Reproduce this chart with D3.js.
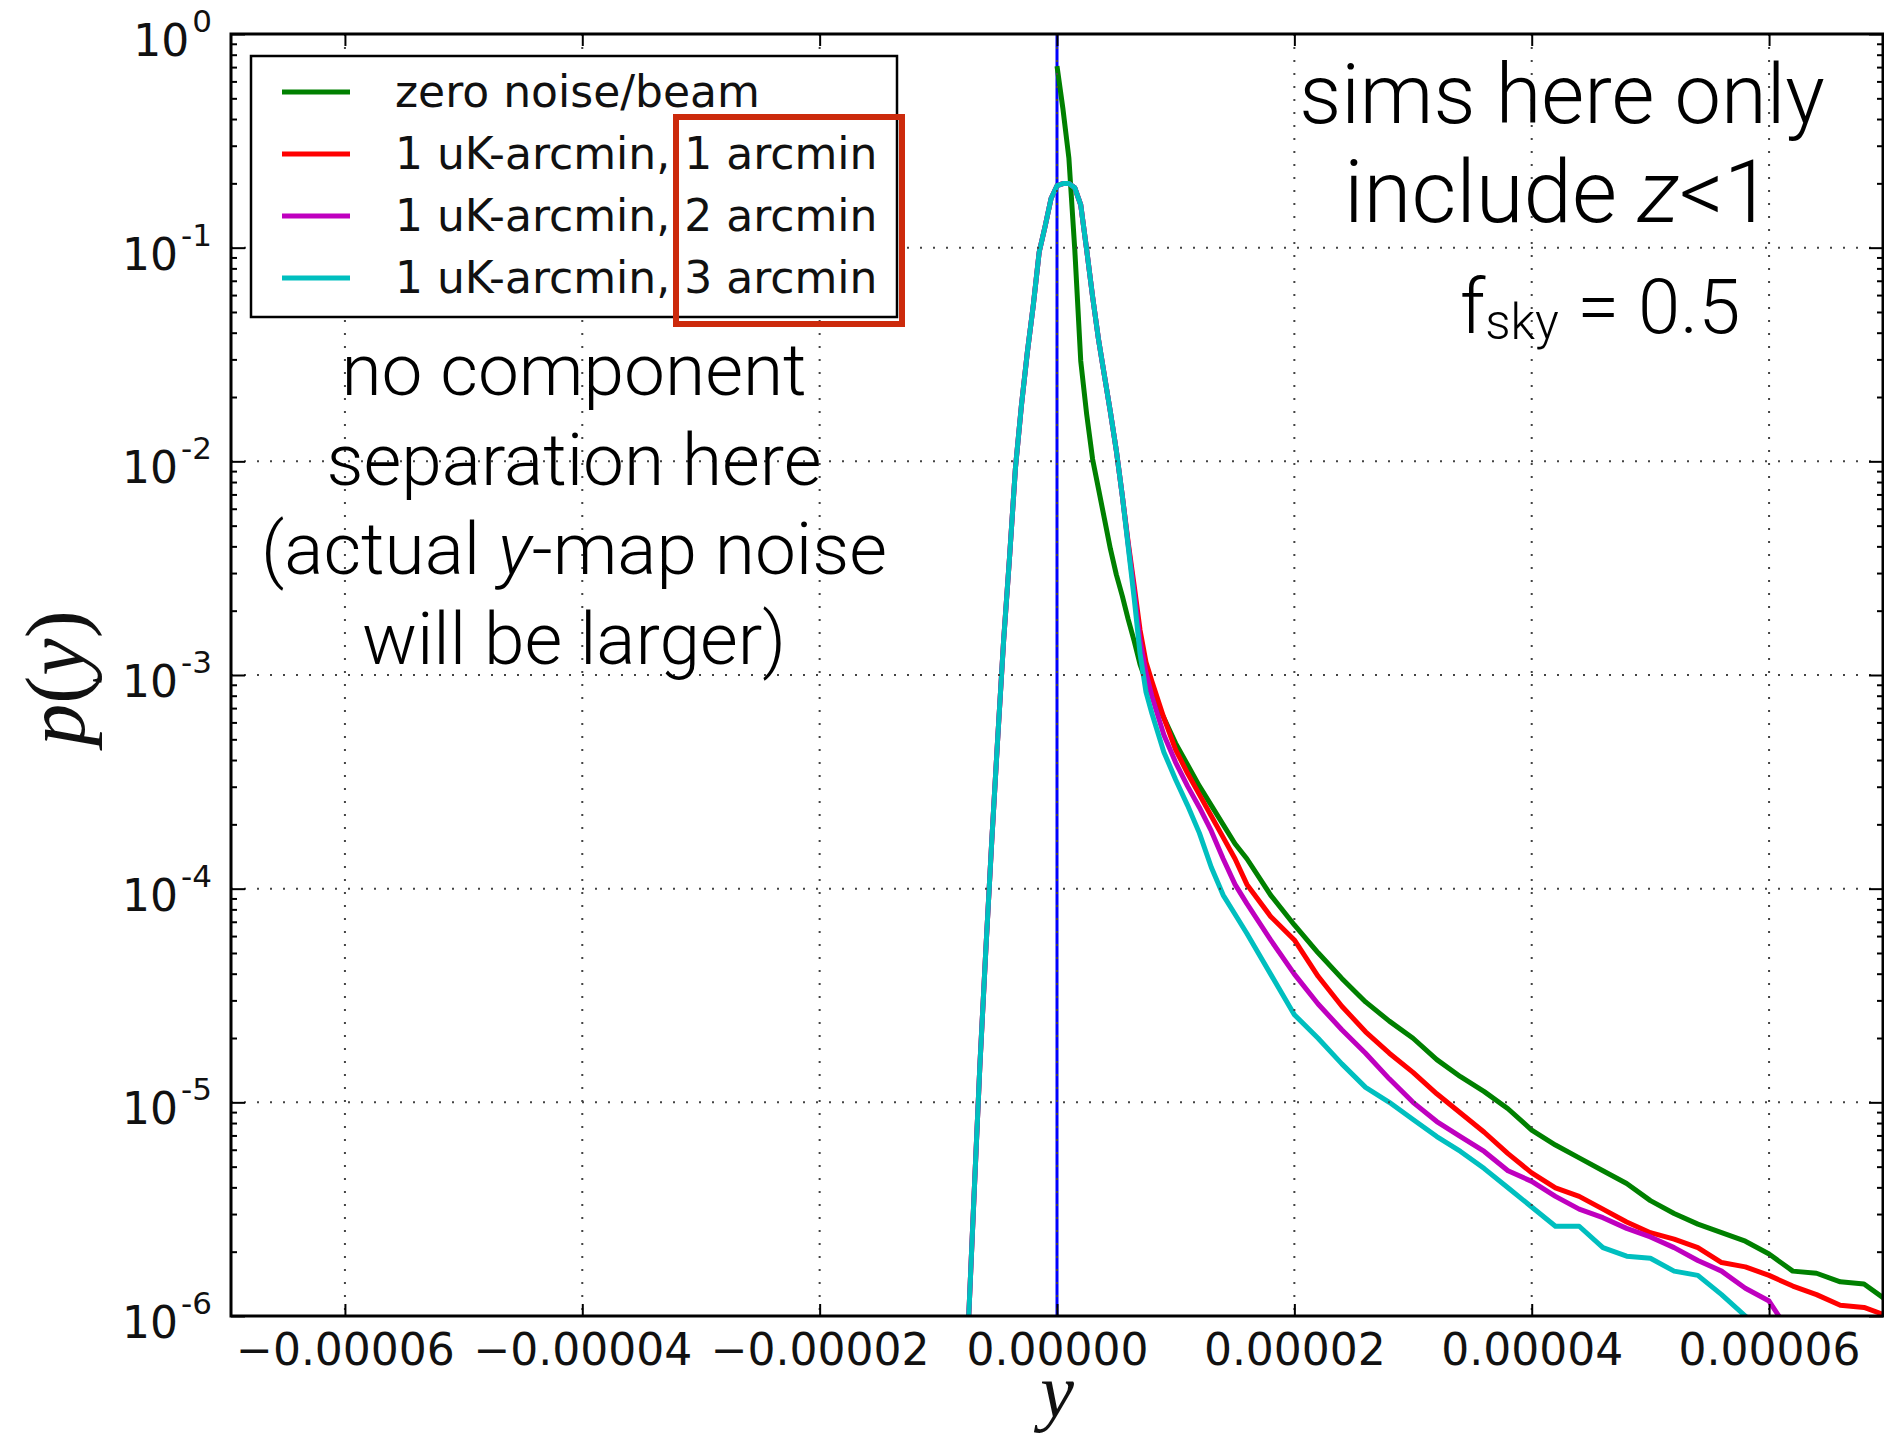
<!DOCTYPE html>
<html>
<head>
<meta charset="utf-8">
<script src="https://cdn.jsdelivr.net/npm/d3@7"></script>
<style>
  body { margin: 0; background: #fff; }
  svg { display: block; }
</style>
</head>
<body>
<div id="graphic"></div>
<script>
// y bins, in units of 1e-5
const xGrid = [-0.75, -0.70, -0.65, -0.60, -0.55, -0.50, -0.45, -0.40, -0.35, -0.30,
    -0.25, -0.20, -0.15, -0.10, -0.05, 0.00, 0.05, 0.10, 0.15, 0.20,
    0.25, 0.30, 0.35, 0.40, 0.45, 0.50, 0.55, 0.60, 0.65, 0.70,
    0.75, 0.80, 0.90, 1.0, 1.1, 1.2, 1.3, 1.4, 1.5, 1.6,
    1.8, 2.0, 2.2, 2.4, 2.6, 2.8, 3.0, 3.2, 3.4, 3.6,
    3.8, 4.0, 4.2, 4.4, 4.6, 4.8, 5.0, 5.2, 5.4, 5.6,
    5.8, 6.0, 6.2, 6.4, 6.6, 6.8, 7.0]

// log10 p(y) (null = nothing drawn)
const logGreen = [null, null, null, null, null, null, null, null, null, null,
    null, null, null, null, null, -0.15, -0.35, -0.58, -1.01, -1.53,
    -1.78, -1.99, -2.13, -2.27, -2.41, -2.53, -2.63, -2.74, -2.84, -2.95,
    -3.03, -3.09, -3.20, -3.32, -3.42, -3.52, -3.61, -3.70, -3.79, -3.86,
    -4.03, -4.17, -4.30, -4.42, -4.53, -4.62, -4.70, -4.80, -4.88, -4.95,
    -5.03, -5.13, -5.20, -5.26, -5.32, -5.38, -5.46, -5.52, -5.57, -5.61,
    -5.65, -5.71, -5.79, -5.80, -5.84, -5.85, -5.93]

const logRed = [-6.08, -5.45, -4.83, -4.29, -3.78, -3.30, -2.84, -2.45, -2.03, -1.74,
    -1.49, -1.27, -1.02, -0.90, -0.77, -0.71, -0.70, -0.70, -0.72, -0.80,
    -1.01, -1.23, -1.43, -1.60, -1.77, -1.95, -2.16, -2.38, -2.58, -2.79,
    -2.94, -3.03, -3.20, -3.35, -3.46, -3.56, -3.66, -3.76, -3.86, -3.98,
    -4.13, -4.24, -4.41, -4.55, -4.67, -4.77, -4.86, -4.96, -5.05, -5.14,
    -5.24, -5.33, -5.40, -5.44, -5.50, -5.56, -5.61, -5.64, -5.68, -5.75,
    -5.77, -5.81, -5.86, -5.90, -5.95, -5.96, -6.00]

const logMagenta = [-6.08, -5.45, -4.83, -4.29, -3.78, -3.30, -2.84, -2.45, -2.03, -1.74,
    -1.49, -1.27, -1.02, -0.90, -0.77, -0.71, -0.70, -0.70, -0.72, -0.80,
    -1.01, -1.23, -1.43, -1.60, -1.77, -1.95, -2.16, -2.39, -2.61, -2.84,
    -2.99, -3.10, -3.28, -3.41, -3.52, -3.62, -3.73, -3.86, -3.98, -4.07,
    -4.24, -4.40, -4.54, -4.66, -4.77, -4.89, -5.00, -5.09, -5.16, -5.23,
    -5.32, -5.37, -5.44, -5.50, -5.54, -5.59, -5.63, -5.68, -5.74, -5.79,
    -5.87, -5.93, -6.10, null, null, null, null]

const logCyan = [-6.08, -5.45, -4.83, -4.29, -3.78, -3.30, -2.84, -2.45, -2.03, -1.74,
    -1.49, -1.27, -1.02, -0.90, -0.77, -0.71, -0.70, -0.70, -0.72, -0.80,
    -1.01, -1.23, -1.43, -1.60, -1.77, -1.95, -2.16, -2.40, -2.64, -2.90,
    -3.08, -3.18, -3.36, -3.49, -3.61, -3.74, -3.90, -4.03, -4.12, -4.21,
    -4.40, -4.59, -4.70, -4.82, -4.93, -5.00, -5.08, -5.16, -5.23, -5.31,
    -5.40, -5.49, -5.58, -5.58, -5.68, -5.72, -5.73, -5.79, -5.81, -5.90,
    -6.00, -6.12, null, null, null, null, null]

const seriesNames = ["zero noise/beam", "1 uK-arcmin, 1 arcmin", "1 uK-arcmin, 2 arcmin", "1 uK-arcmin, 3 arcmin"]
const seriesColors = ["#008000", "#ff0000", "#bf00bf", "#00bfbf"]

const xTickValues = [-6, -4, -2, 0, 2, 4, 6]
const xTickLabels = ["\u22120.00006", "\u22120.00004", "\u22120.00002", "0.00000", "0.00002", "0.00004", "0.00006"]
const yTickExps = [0, -1, -2, -3, -4, -5, -6]

const W = 1884, H = 1439
const plot = { left: 231, right: 1883, top: 34, bottom: 1316 }
const tickFont = "'DejaVu Sans', sans-serif"
const noteFont = "Roboto, 'Helvetica Neue', sans-serif"

let x = d3.scaleLinear()
    .domain([-6.96, 6.96])
    .range([plot.left, plot.right])

let y = d3.scaleLog()
    .domain([1e-6, 1])
    .range([plot.bottom, plot.top])

let svg = d3.select("#graphic").append("svg")
    .attr("width", W)
    .attr("height", H)

svg.append("defs").append("clipPath")
    .attr("id", "plotclip")
    .append("rect")
    .attr("x", plot.left)
    .attr("y", plot.top)
    .attr("width", plot.right - plot.left)
    .attr("height", plot.bottom - plot.top)

let curves = svg.append("g").attr("clip-path", "url(#plotclip)")

// vertical line at y = 0
curves.append("line")
    .attr("x1", x(0)).attr("x2", x(0))
    .attr("y1", plot.top).attr("y2", plot.bottom)
    .attr("stroke", "#0000ff")
    .attr("stroke-width", 3)

const seriesLogs = [logGreen, logRed, logMagenta, logCyan]

let line = d3.line()
    .defined(d => d[1] != null)
    .x(d => x(d[0]))
    .y(d => y(Math.pow(10, d[1])))

seriesLogs.forEach(function (vals, i) {
    curves.append("path")
        .datum(xGrid.map((v, j) => [v, vals[j]]))
        .attr("fill", "none")
        .attr("stroke", seriesColors[i])
        .attr("stroke-width", 5)
        .attr("stroke-linejoin", "round")
        .attr("d", line)
})

// dotted grid, drawn over the data like the classic matplotlib style
let grid = svg.append("g")
    .attr("stroke", "#444")
    .attr("stroke-width", 2)
    .attr("stroke-dasharray", "2,11")

grid.selectAll(null)
    .data(xTickValues)
    .enter().append("line")
    .attr("x1", d => x(d)).attr("x2", d => x(d))
    .attr("y1", plot.top).attr("y2", plot.bottom)

grid.selectAll(null)
    .data(yTickExps.slice(1, -1))
    .enter().append("line")
    .attr("x1", plot.left).attr("x2", plot.right)
    .attr("y1", d => y(Math.pow(10, d))).attr("y2", d => y(Math.pow(10, d)))

// ticks on all four sides, pointing inwards
let minorValues = []
yTickExps.slice(1).forEach(function (e) {
    for (let k = 2; k <= 9; k++) minorValues.push(k * Math.pow(10, e))
})

function styleAxis(g) {
    g.select(".domain").remove()
    g.selectAll(".tick line").attr("stroke", "#000").attr("stroke-width", 2)
    g.selectAll("text").attr("font-family", tickFont).attr("font-size", 44).attr("fill", "#111")
}

svg.append("g")
    .attr("transform", "translate(0," + plot.bottom + ")")
    .call(d3.axisBottom(x).tickValues(xTickValues).tickSize(-12).tickSizeOuter(0)
        .tickPadding(18).tickFormat((d, i) => xTickLabels[i]))
    .call(styleAxis)

svg.append("g")
    .attr("transform", "translate(0," + plot.top + ")")
    .call(d3.axisTop(x).tickValues(xTickValues).tickSize(-12).tickSizeOuter(0).tickFormat(""))
    .call(styleAxis)

svg.append("g")
    .attr("transform", "translate(" + plot.left + ",0)")
    .call(d3.axisLeft(y).tickValues(yTickExps.map(e => Math.pow(10, e))).tickSize(-14).tickSizeOuter(0).tickFormat(""))
    .call(styleAxis)

svg.append("g")
    .attr("transform", "translate(" + plot.left + ",0)")
    .call(d3.axisLeft(y).tickValues(minorValues).tickSize(-6).tickSizeOuter(0).tickFormat(""))
    .call(styleAxis)

svg.append("g")
    .attr("transform", "translate(" + plot.right + ",0)")
    .call(d3.axisRight(y).tickValues(yTickExps.map(e => Math.pow(10, e))).tickSize(-14).tickSizeOuter(0).tickFormat(""))
    .call(styleAxis)

svg.append("g")
    .attr("transform", "translate(" + plot.right + ",0)")
    .call(d3.axisRight(y).tickValues(minorValues).tickSize(-6).tickSizeOuter(0).tickFormat(""))
    .call(styleAxis)

// frame
svg.append("rect")
    .attr("x", plot.left).attr("y", plot.top)
    .attr("width", plot.right - plot.left).attr("height", plot.bottom - plot.top)
    .attr("fill", "none")
    .attr("stroke", "#000")
    .attr("stroke-width", 3)

// y tick labels: 10 with superscript exponent
let yLabels = svg.selectAll(null)
    .data(yTickExps)
    .enter().append("text")
    .attr("x", 212)
    .attr("y", d => y(Math.pow(10, d)) + 22)
    .attr("text-anchor", "end")
    .attr("font-family", tickFont)
    .attr("font-size", 44)
    .attr("fill", "#111")

yLabels.append("tspan").text("10")
yLabels.append("tspan")
    .attr("dx", 3)
    .attr("dy", -24)
    .attr("font-size", 31)
    .text(d => d === 0 ? "0" : "-" + Math.abs(d))

// axis titles
svg.append("text")
    .attr("transform", "translate(84,678) rotate(-90)")
    .attr("text-anchor", "middle")
    .attr("font-family", "'Liberation Serif', serif")
    .attr("font-size", 84)
    .attr("fill", "#111")
    .html("<tspan font-style='italic'>p</tspan>(<tspan font-style='italic'>y</tspan>)")

svg.append("text")
    .attr("x", x(0))
    .attr("y", 1417)
    .attr("text-anchor", "middle")
    .attr("font-family", "'Liberation Serif', serif")
    .attr("font-style", "italic")
    .attr("font-size", 76)
    .attr("fill", "#111")
    .text("y")

// legend
let legend = svg.append("g")
legend.append("rect")
    .attr("x", 251).attr("y", 56)
    .attr("width", 646).attr("height", 261)
    .attr("fill", "#fff")
    .attr("stroke", "#000")
    .attr("stroke-width", 2.5)

legend.selectAll(null)
    .data(seriesNames)
    .enter().append("line")
    .attr("x1", 282).attr("x2", 350)
    .attr("y1", (d, i) => 92 + i * 62)
    .attr("y2", (d, i) => 92 + i * 62)
    .attr("stroke", (d, i) => seriesColors[i])
    .attr("stroke-width", 5)

legend.selectAll(null)
    .data(seriesNames)
    .enter().append("text")
    .attr("x", 395)
    .attr("y", (d, i) => 107 + i * 62)
    .attr("font-family", tickFont)
    .attr("font-size", 44)
    .attr("fill", "#111")
    .text(d => d)

// red highlight box
svg.append("rect")
    .attr("x", 676).attr("y", 117)
    .attr("width", 226).attr("height", 207)
    .attr("fill", "none")
    .attr("stroke", "#cc2a0c")
    .attr("stroke-width", 6)

// annotations
const leftNote = ["no component", "separation here", "(actual |y|-map noise", "will be larger)"]
let leftText = svg.selectAll(null)
    .data(leftNote)
    .enter().append("text")
    .attr("x", 574)
    .attr("y", (d, i) => 395 + i * 89.5)
    .attr("text-anchor", "middle")
    .attr("font-family", noteFont)
    .attr("font-weight", 300)
    .attr("font-size", 73)
    .attr("fill", "#000")

leftText.each(function (d) {
    let parts = d.split("|")
    let t = d3.select(this)
    parts.forEach(function (p, k) {
        t.append("tspan").attr("font-style", k === 1 ? "italic" : null).text(p)
    })
})

let right = svg.append("g")
    .attr("font-family", noteFont)
    .attr("font-weight", 300)
    .attr("fill", "#000")

right.append("text")
    .attr("x", 1562).attr("y", 123)
    .attr("text-anchor", "middle")
    .attr("font-size", 83)
    .text("sims here only")

let inc = right.append("text")
    .attr("x", 1558).attr("y", 222)
    .attr("text-anchor", "middle")
    .attr("font-size", 87)
inc.append("tspan").text("include ")
inc.append("tspan").attr("font-style", "italic").text("z")
inc.append("tspan").text("<1")

let fsky = right.append("text")
    .attr("x", 1460).attr("y", 333)
    .attr("font-size", 76)
fsky.append("tspan").text("f")
fsky.append("tspan").attr("font-size", 50).attr("dy", 6).text("sky")
fsky.append("tspan").attr("dy", -6).text(" = 0.5")
</script>
</body>
</html>
